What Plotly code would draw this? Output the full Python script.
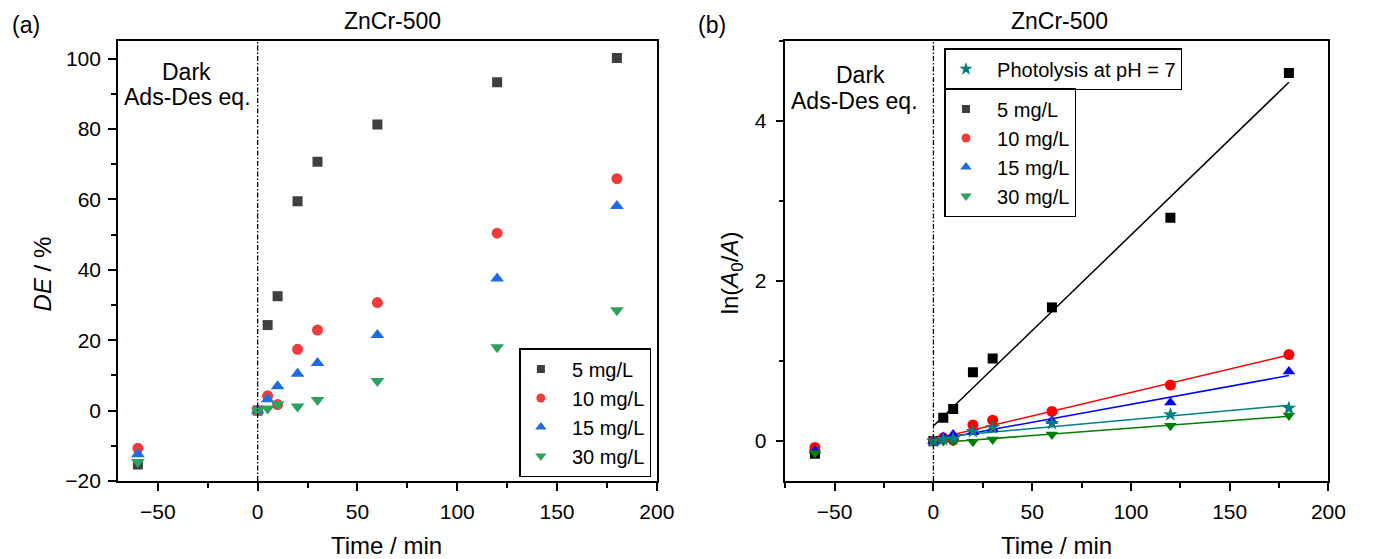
import numpy as np
import plotly.graph_objects as go

# ---------------- data ----------------
time = [-60, 0, 5, 10, 20, 30, 60, 120, 180]
de_5 = [-15.3, 0, 24.3, 32.5, 59.5, 70.7, 81.3, 93.3, 100.2]
de_10 = [-10.7, 0, 4.2, 1.7, 17.4, 22.9, 30.7, 50.4, 65.9]
de_15 = [-12.4, 0, 3.2, 6.9, 10.5, 13.5, 21.5, 37.5, 58.1]
de_30 = [-14.6, 0, 0.6, 1.8, 1.2, 3.0, 8.4, 18.0, 28.5]

ln_5 = [-0.16, 0, 0.29, 0.40, 0.86, 1.03, 1.67, 2.79, 4.60]
ln_10 = [-0.08, 0, 0.04, 0.01, 0.20, 0.26, 0.37, 0.70, 1.08]
ln_15 = [-0.12, 0, 0.05, 0.08, 0.11, 0.15, 0.25, 0.48, 0.87]
ln_30 = [-0.15, -0.01, 0.0, 0.0, -0.01, 0.02, 0.08, 0.19, 0.32]
time_photo = [0, 5, 10, 20, 30, 60, 120, 180]
ln_photo = [0, 0.02, 0.03, 0.12, 0.17, 0.22, 0.33, 0.41]

series_names = ["5 mg/L", "10 mg/L", "15 mg/L", "30 mg/L"]
photo_name = "Photolysis at pH = 7"
panel_title = "ZnCr-500"

# ---------------- styles ----------------
W, H = 1377, 559
FONT = "Liberation Sans, Arial, sans-serif"
col_a = ["#3f3f3f", "#ef3b3b", "#1e6ce0", "#2ca25f"]
col_b = ["#000000", "#ff0000", "#0000ff", "#008000"]
col_photo = "#008080"
symbols = ["square", "circle", "triangle-up", "triangle-down"]
sizes_a = [10, 11, 12, 12]
sizes_b = [10, 11, 11, 11]
leg_sizes = [8, 9, 10, 10]

T_PLOT, B_PLOT = 41, 481


def px(x):
    return x / W


def py(y):
    return (B_PLOT - y) / (B_PLOT - T_PLOT)


def fit_line(t, y):
    t = np.asarray(t, float)
    y = np.asarray(y, float)
    m = t >= 0
    k, b = np.polyfit(t[m], y[m], 1)
    xs = np.array([t[m].min(), t[m].max()])
    return xs, k * xs + b


fig = go.Figure()

# ---------- panel (a) ----------
for name, ys, c, s, sz in zip(series_names, [de_5, de_10, de_15, de_30], col_a, symbols, sizes_a):
    fig.add_trace(go.Scatter(x=time, y=ys, mode="markers", name=name, showlegend=False,
                             marker=dict(symbol=s, size=sz, color=c), xaxis="x", yaxis="y"))
for name, c, s, sz in zip(series_names, col_a, symbols, leg_sizes):
    fig.add_trace(go.Scatter(x=[None], y=[None], mode="markers", name="\u00a0\u00a0" + name,
                             marker=dict(symbol=s, size=sz, color=c), xaxis="x", yaxis="y",
                             legend="legend"))

# ---------- panel (b) ----------
b_series = [ln_5, ln_10, ln_15, ln_30]
for ys, c in zip(b_series, col_b):
    xs, yf = fit_line(time, ys)
    fig.add_trace(go.Scatter(x=xs, y=yf, mode="lines", line=dict(color=c, width=1.5),
                             showlegend=False, xaxis="x2", yaxis="y2", hoverinfo="skip"))
xs, yf = fit_line(time_photo, ln_photo)
fig.add_trace(go.Scatter(x=xs, y=yf, mode="lines", line=dict(color=col_photo, width=1.5),
                         showlegend=False, xaxis="x2", yaxis="y2", hoverinfo="skip"))

for name, ys, c, s, sz in zip(series_names[:3], b_series[:3], col_b[:3], symbols[:3], sizes_b[:3]):
    fig.add_trace(go.Scatter(x=time, y=ys, mode="markers", name=name, showlegend=False,
                             marker=dict(symbol=s, size=sz, color=c), xaxis="x2", yaxis="y2"))
fig.add_trace(go.Scatter(x=time, y=ln_30, mode="markers", name=series_names[3], showlegend=False,
                         marker=dict(symbol=symbols[3], size=sizes_b[3], color=col_b[3]),
                         xaxis="x2", yaxis="y2"))
fig.add_trace(go.Scatter(x=time_photo, y=ln_photo, mode="markers", name=photo_name, showlegend=False,
                         marker=dict(symbol="star", size=11, color=col_photo), xaxis="x2", yaxis="y2"))

fig.add_trace(go.Scatter(x=[None], y=[None], mode="markers", name="\u00a0\u00a0" + photo_name,
                         marker=dict(symbol="star", size=10, color=col_photo),
                         xaxis="x2", yaxis="y2", legend="legend2"))
for name, c, s, sz in zip(series_names, col_a, symbols, leg_sizes):
    fig.add_trace(go.Scatter(x=[None], y=[None], mode="markers", name="\u00a0\u00a0" + name,
                             marker=dict(symbol=s, size=sz, color=c), xaxis="x2", yaxis="y2",
                             legend="legend3"))

# ---------- axes ----------
axis_common = dict(showgrid=False, zeroline=False, showline=True, linecolor="black", linewidth=1.5,
                   mirror=True, ticks="outside", ticklen=8, tickwidth=1.5, tickcolor="black",
                   tickfont=dict(size=21, family=FONT, color="black"))

fig.update_layout(
    xaxis=dict(domain=[px(119.5), px(665.5)], range=[-70, 200], dtick=50, tick0=0, anchor="y",
               minor=dict(ticks="outside", ticklen=5, tickwidth=1.5, dtick=25, tick0=0, tickcolor="black"),
               ticklabelstandoff=3, **axis_common),
    yaxis=dict(domain=[0, 1], range=[-20, 105], dtick=20, tick0=0, anchor="x",
               minor=dict(ticks="outside", ticklen=5, tickwidth=1.5, dtick=10, tick0=0, tickcolor="black"),
               ticklabelstandoff=3, **axis_common),
    xaxis2=dict(domain=[px(795.7), px(1346)], range=[-75, 200], dtick=50, tick0=0, anchor="y2",
                minor=dict(ticks="outside", ticklen=5, tickwidth=1.5, dtick=25, tick0=0, tickcolor="black"),
                ticklabelstandoff=3, **axis_common),
    yaxis2=dict(domain=[0, 1], range=[-0.5, 5], dtick=2, tick0=0, anchor="x2",
                minor=dict(ticks="outside", ticklen=5, tickwidth=1.5, dtick=1, tick0=0, tickcolor="black"),
                ticklabelstandoff=5, **axis_common),
)

# ---------- legends ----------
leg_common = dict(xref="paper", yref="paper", bordercolor="black", borderwidth=1.5, bgcolor="white",
                  tracegroupgap=0, itemwidth=30, itemclick=False, itemdoubleclick=False)
fig.update_layout(
    legend=dict(x=px(660), y=py(477), xanchor="right", yanchor="bottom",
                font=dict(size=20, family=FONT, color="black"), **leg_common),
    legend2=dict(x=px(957), y=py(48), xanchor="left", yanchor="top",
                 font=dict(size=20, family=FONT, color="black"), **leg_common),
    legend3=dict(x=px(957), y=py(88), xanchor="left", yanchor="top",
                 font=dict(size=20, family=FONT, color="black"), **leg_common),
)

# ---------- dash-dot lines at t = 0 ----------
for xr, yr in [("x", "y domain"), ("x2", "y2 domain")]:
    fig.add_shape(type="line", xref=xr, yref=yr, x0=0, x1=0, y0=0, y1=1,
                  line=dict(color="black", width=1.3, dash="5px,2px,1.5px,2px"))

# ---------- text ----------
def ann(text, x, y, size, angle=0):
    fig.add_annotation(text=text, x=px(x), y=py(y), xref="paper", yref="paper", showarrow=False,
                       xanchor="center", yanchor="middle", textangle=angle,
                       font=dict(size=size, family=FONT, color="black"))


ann("(a)", 26, 25, 23)
ann("(b)", 721, 25, 23)
ann(panel_title, 398, 21, 23)
ann(panel_title, 1074, 21, 23)
ann("Dark", 189, 72, 23)
ann("Ads-Des eq.", 190, 97, 23)
ann("Dark", 872, 75, 23)
ann("Ads-Des eq.", 866, 101, 23)
ann("Time / min", 392, 545, 24)
ann("Time / min", 1070, 545, 24)
ann("<i>DE</i> / %", 43, 274, 24, -90)
ann("ln(<i>A</i><sub>0</sub>/<i>A</i>)", 741, 273, 24, -90)

fig.update_layout(width=W, height=H, autosize=False,
                  margin=dict(l=0, r=0, t=T_PLOT, b=H - B_PLOT, pad=0),
                  paper_bgcolor="white", plot_bgcolor="white",
                  font=dict(family=FONT, color="black"))

post = ("document.documentElement.style.margin='0';document.documentElement.style.overflow='hidden';"
        "document.body.style.margin='0';document.body.style.padding='0';document.body.style.overflow='hidden';")
fig.write_html("out.html", post_script=post)
